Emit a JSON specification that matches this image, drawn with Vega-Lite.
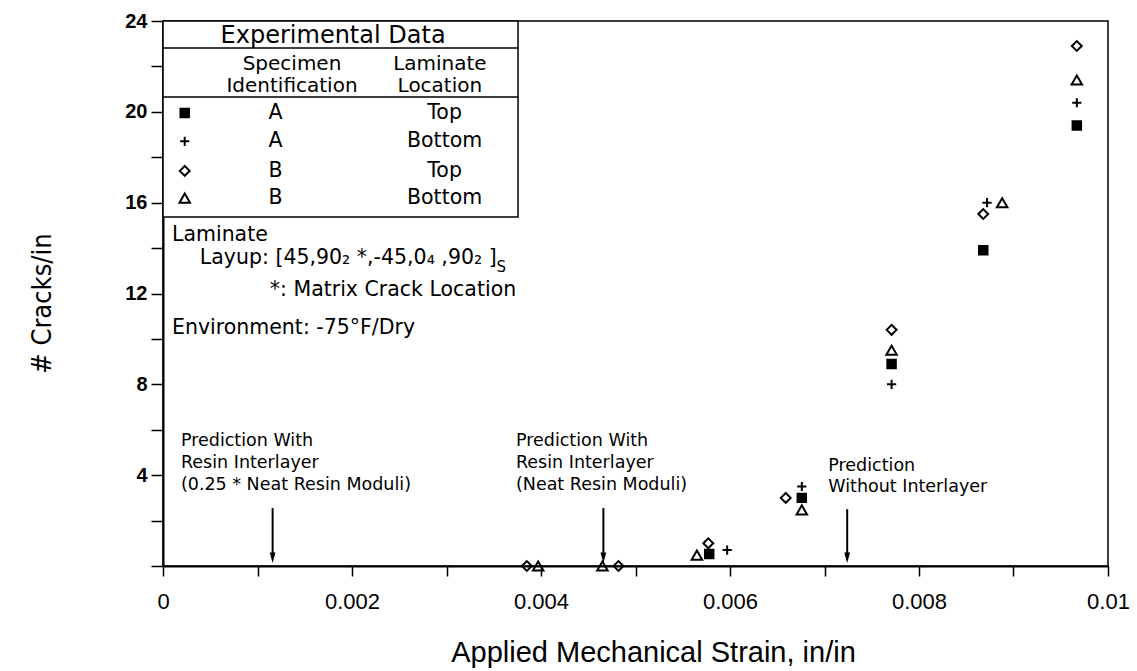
{
  "$schema": "https://vega.github.io/schema/vega-lite/v6.json",
  "width": 945,
  "height": 545,
  "autosize": {"type": "none"},
  "padding": {"left": 163, "top": 21, "right": 29, "bottom": 105},
  "background": "white",
  "config": {
    "view": {"stroke": "black", "strokeWidth": 1.5},
    "axis": {"grid": false, "domainColor": "black", "domainWidth": 2, "tickColor": "black", "tickWidth": 1.5,
      "labelColor": "black", "titleColor": "black", "labelFont": "Liberation Sans", "titleFont": "Liberation Sans", "titleFontWeight": "normal"}
  },
  "datasets": {
    "points": [
      {"x": 0.00578, "y": 0.53, "s": "A Top"},
      {"x": 0.00676, "y": 3.0, "s": "A Top"},
      {"x": 0.00771, "y": 8.9, "s": "A Top"},
      {"x": 0.00868, "y": 13.9, "s": "A Top"},
      {"x": 0.00967, "y": 19.4, "s": "A Top"},
      {"x": 0.00597, "y": 0.7, "s": "A Bottom"},
      {"x": 0.00676, "y": 3.5, "s": "A Bottom"},
      {"x": 0.00771, "y": 8.0, "s": "A Bottom"},
      {"x": 0.00872, "y": 16.0, "s": "A Bottom"},
      {"x": 0.00967, "y": 20.4, "s": "A Bottom"},
      {"x": 0.00385, "y": 0, "s": "B Top"},
      {"x": 0.00482, "y": 0, "s": "B Top"},
      {"x": 0.00577, "y": 1.0, "s": "B Top"},
      {"x": 0.00659, "y": 3.0, "s": "B Top"},
      {"x": 0.00771, "y": 10.4, "s": "B Top"},
      {"x": 0.00868, "y": 15.5, "s": "B Top"},
      {"x": 0.00967, "y": 22.9, "s": "B Top"},
      {"x": 0.00397, "y": 0, "s": "B Bottom"},
      {"x": 0.00465, "y": 0, "s": "B Bottom"},
      {"x": 0.00565, "y": 0.48, "s": "B Bottom"},
      {"x": 0.00676, "y": 2.47, "s": "B Bottom"},
      {"x": 0.00771, "y": 9.5, "s": "B Bottom"},
      {"x": 0.00888, "y": 16.0, "s": "B Bottom"},
      {"x": 0.00967, "y": 21.4, "s": "B Bottom"}
    ],
    "legendPts": [
      {"x": 0.00023, "y": 19.95, "s": "A Top"},
      {"x": 0.00023, "y": 18.7, "s": "A Bottom"},
      {"x": 0.00023, "y": 17.4, "s": "B Top"},
      {"x": 0.00023, "y": 16.2, "s": "B Bottom"}
    ],
    "box": [{"x": 0, "x2": 0.003757, "y": 15.37, "y2": 24}],
    "boxLines": [{"x": 0, "x2": 0.003757, "y": 22.81}, {"x": 0, "x2": 0.003757, "y": 20.65}],
    "arrows": [
      {"x": 0.00116, "y": 2.55, "y2": 0.5},
      {"x": 0.00466, "y": 2.55, "y2": 0.5},
      {"x": 0.00724, "y": 2.5, "y2": 0.5}
    ],
    "heads": [
      {"x": 0.00116, "y": 0.36},
      {"x": 0.00466, "y": 0.36},
      {"x": 0.00724, "y": 0.36}
    ],
    "texts": [
      {"t": "Experimental Data", "x": 0.0018, "y": 23.34, "g": "head"},
      {"t": "Specimen", "x": 0.001365, "y": 22.1, "g": "sub"},
      {"t": "Identification", "x": 0.001365, "y": 21.14, "g": "sub"},
      {"t": "Laminate", "x": 0.00293, "y": 22.1, "g": "sub"},
      {"t": "Location", "x": 0.00293, "y": 21.14, "g": "sub"},
      {"t": "A", "x": 0.00119, "y": 19.95, "g": "row"},
      {"t": "Top", "x": 0.00298, "y": 19.95, "g": "row"},
      {"t": "A", "x": 0.00119, "y": 18.7, "g": "row"},
      {"t": "Bottom", "x": 0.00298, "y": 18.7, "g": "row"},
      {"t": "B", "x": 0.00119, "y": 17.4, "g": "row"},
      {"t": "Top", "x": 0.00298, "y": 17.4, "g": "row"},
      {"t": "B", "x": 0.00119, "y": 16.2, "g": "row"},
      {"t": "Bottom", "x": 0.00298, "y": 16.2, "g": "row"},
      {"t": "Laminate", "x": 0.000095, "y": 14.58, "g": "note"},
      {"t": "Layup:  [45,90₂ *,-45,0₄ ,90₂ ]", "x": 0.00039, "y": 13.56, "g": "note"},
      {"t": "*: Matrix Crack Location", "x": 0.00113, "y": 12.15, "g": "note"},
      {"t": "Environment:  -75°F/Dry", "x": 0.000095, "y": 10.48, "g": "note"},
      {"t": "S", "x": 0.00353, "y": 13.15, "g": "small"},
      {"t": "Prediction With", "x": 0.00019, "y": 5.5, "g": "ann"},
      {"t": "Resin Interlayer", "x": 0.00019, "y": 4.54, "g": "ann"},
      {"t": "(0.25 * Neat Resin Moduli)", "x": 0.00019, "y": 3.57, "g": "ann"},
      {"t": "Prediction With", "x": 0.003735, "y": 5.5, "g": "ann"},
      {"t": "Resin Interlayer", "x": 0.003735, "y": 4.54, "g": "ann"},
      {"t": "(Neat Resin Moduli)", "x": 0.003735, "y": 3.57, "g": "ann"},
      {"t": "Prediction", "x": 0.00704, "y": 4.4, "g": "ann"},
      {"t": "Without Interlayer", "x": 0.00704, "y": 3.5, "g": "ann"}
    ]
  },
  "encoding": {
    "x": {
      "field": "x", "type": "quantitative",
      "scale": {"domain": [0, 0.01], "nice": false, "zero": false},
      "axis": {
        "title": "Applied Mechanical Strain, in/in",
        "values": [0, 0.001, 0.002, 0.003, 0.004, 0.005, 0.006, 0.007, 0.008, 0.009, 0.01],
        "labelExpr": "round(datum.value*1000) % 2 === 0 ? format(datum.value, '~g') : ''",
        "tickSize": 10, "labelFontSize": 22, "labelPadding": 15, "labelFlush": false,
        "titleFontSize": 29, "titleX": 490, "titleY": 86, "titleBaseline": "middle", "titleAlign": "center"
      }
    },
    "y": {
      "field": "y", "type": "quantitative",
      "scale": {"domain": [0, 24], "nice": false},
      "axis": {
        "title": "# Cracks/in",
        "values": [0, 2, 4, 6, 8, 10, 12, 14, 16, 18, 20, 22, 24],
        "labelExpr": "datum.value % 4 === 0 && datum.value > 0 ? datum.label : ''",
        "tickSize": 12, "labelFontSize": 20, "labelFontWeight": "bold", "labelPadding": 4,
        "titleFont": "DejaVu Sans Condensed, Liberation Sans, sans-serif", "titleFontSize": 27,
        "titleAngle": -90, "titleX": -121, "titleY": 282, "titleBaseline": "middle", "titleAlign": "center"
      }
    }
  },
  "layer": [
    {
      "data": {"name": "box"},
      "mark": {"type": "rect", "fill": "white", "stroke": "black", "strokeWidth": 1.5},
      "encoding": {"x2": {"field": "x2"}, "y2": {"field": "y2"}}
    },
    {
      "data": {"name": "boxLines"},
      "mark": {"type": "rule", "color": "black", "strokeWidth": 1.5},
      "encoding": {"x2": {"field": "x2"}}
    },
    {
      "data": {"name": "arrows"},
      "mark": {"type": "rule", "color": "black", "strokeWidth": 2},
      "encoding": {"y2": {"field": "y2"}}
    },
    {
      "data": {"name": "heads"},
      "mark": {"type": "point", "shape": "M-0.55,-1L0.55,-1L0,1Z", "filled": true, "color": "black", "size": 110, "opacity": 1}
    },
    {
      "data": {"name": "points"},
      "mark": {"type": "point", "stroke": "black", "strokeWidth": 2, "opacity": 1},
      "encoding": {
        "shape": {"field": "s", "type": "nominal", "legend": null,
          "scale": {"domain": ["A Top", "A Bottom", "B Top", "B Bottom"], "range": ["square", "M-1,0H1M0,-1V1", "diamond", "triangle-up"]}},
        "fill": {"field": "s", "type": "nominal", "legend": null,
          "scale": {"domain": ["A Top", "A Bottom", "B Top", "B Bottom"], "range": ["black", "transparent", "transparent", "transparent"]}},
        "size": {"field": "s", "type": "nominal", "legend": null,
          "scale": {"domain": ["A Top", "A Bottom", "B Top", "B Bottom"], "range": [72, 110, 90, 85]}}
      }
    },
    {
      "data": {"name": "legendPts"},
      "mark": {"type": "point", "stroke": "black", "strokeWidth": 2, "opacity": 1},
      "encoding": {
        "shape": {"field": "s", "type": "nominal", "legend": null},
        "fill": {"field": "s", "type": "nominal", "legend": null},
        "size": {"field": "s", "type": "nominal", "legend": null}
      }
    },
    {
      "data": {"name": "texts"},
      "transform": [{"filter": "datum.g === 'head'"}],
      "mark": {"type": "text", "font": "DejaVu Sans", "fontSize": 24, "align": "center", "baseline": "middle", "color": "black"},
      "encoding": {"text": {"field": "t"}}
    },
    {
      "data": {"name": "texts"},
      "transform": [{"filter": "datum.g === 'sub'"}],
      "mark": {"type": "text", "font": "DejaVu Sans", "fontSize": 20, "align": "center", "baseline": "middle", "color": "black"},
      "encoding": {"text": {"field": "t"}}
    },
    {
      "data": {"name": "texts"},
      "transform": [{"filter": "datum.g === 'row'"}],
      "mark": {"type": "text", "font": "DejaVu Sans", "fontSize": 20.5, "align": "center", "baseline": "middle", "color": "black"},
      "encoding": {"text": {"field": "t"}}
    },
    {
      "data": {"name": "texts"},
      "transform": [{"filter": "datum.g === 'note'"}],
      "mark": {"type": "text", "font": "DejaVu Sans", "fontSize": 20.5, "align": "left", "baseline": "middle", "color": "black"},
      "encoding": {"text": {"field": "t"}}
    },
    {
      "data": {"name": "texts"},
      "transform": [{"filter": "datum.g === 'small'"}],
      "mark": {"type": "text", "font": "DejaVu Sans", "fontSize": 15, "align": "left", "baseline": "middle", "color": "black"},
      "encoding": {"text": {"field": "t"}}
    },
    {
      "data": {"name": "texts"},
      "transform": [{"filter": "datum.g === 'ann'"}],
      "mark": {"type": "text", "font": "DejaVu Sans", "fontSize": 17.5, "align": "left", "baseline": "middle", "color": "black"},
      "encoding": {"text": {"field": "t"}}
    }
  ]
}
